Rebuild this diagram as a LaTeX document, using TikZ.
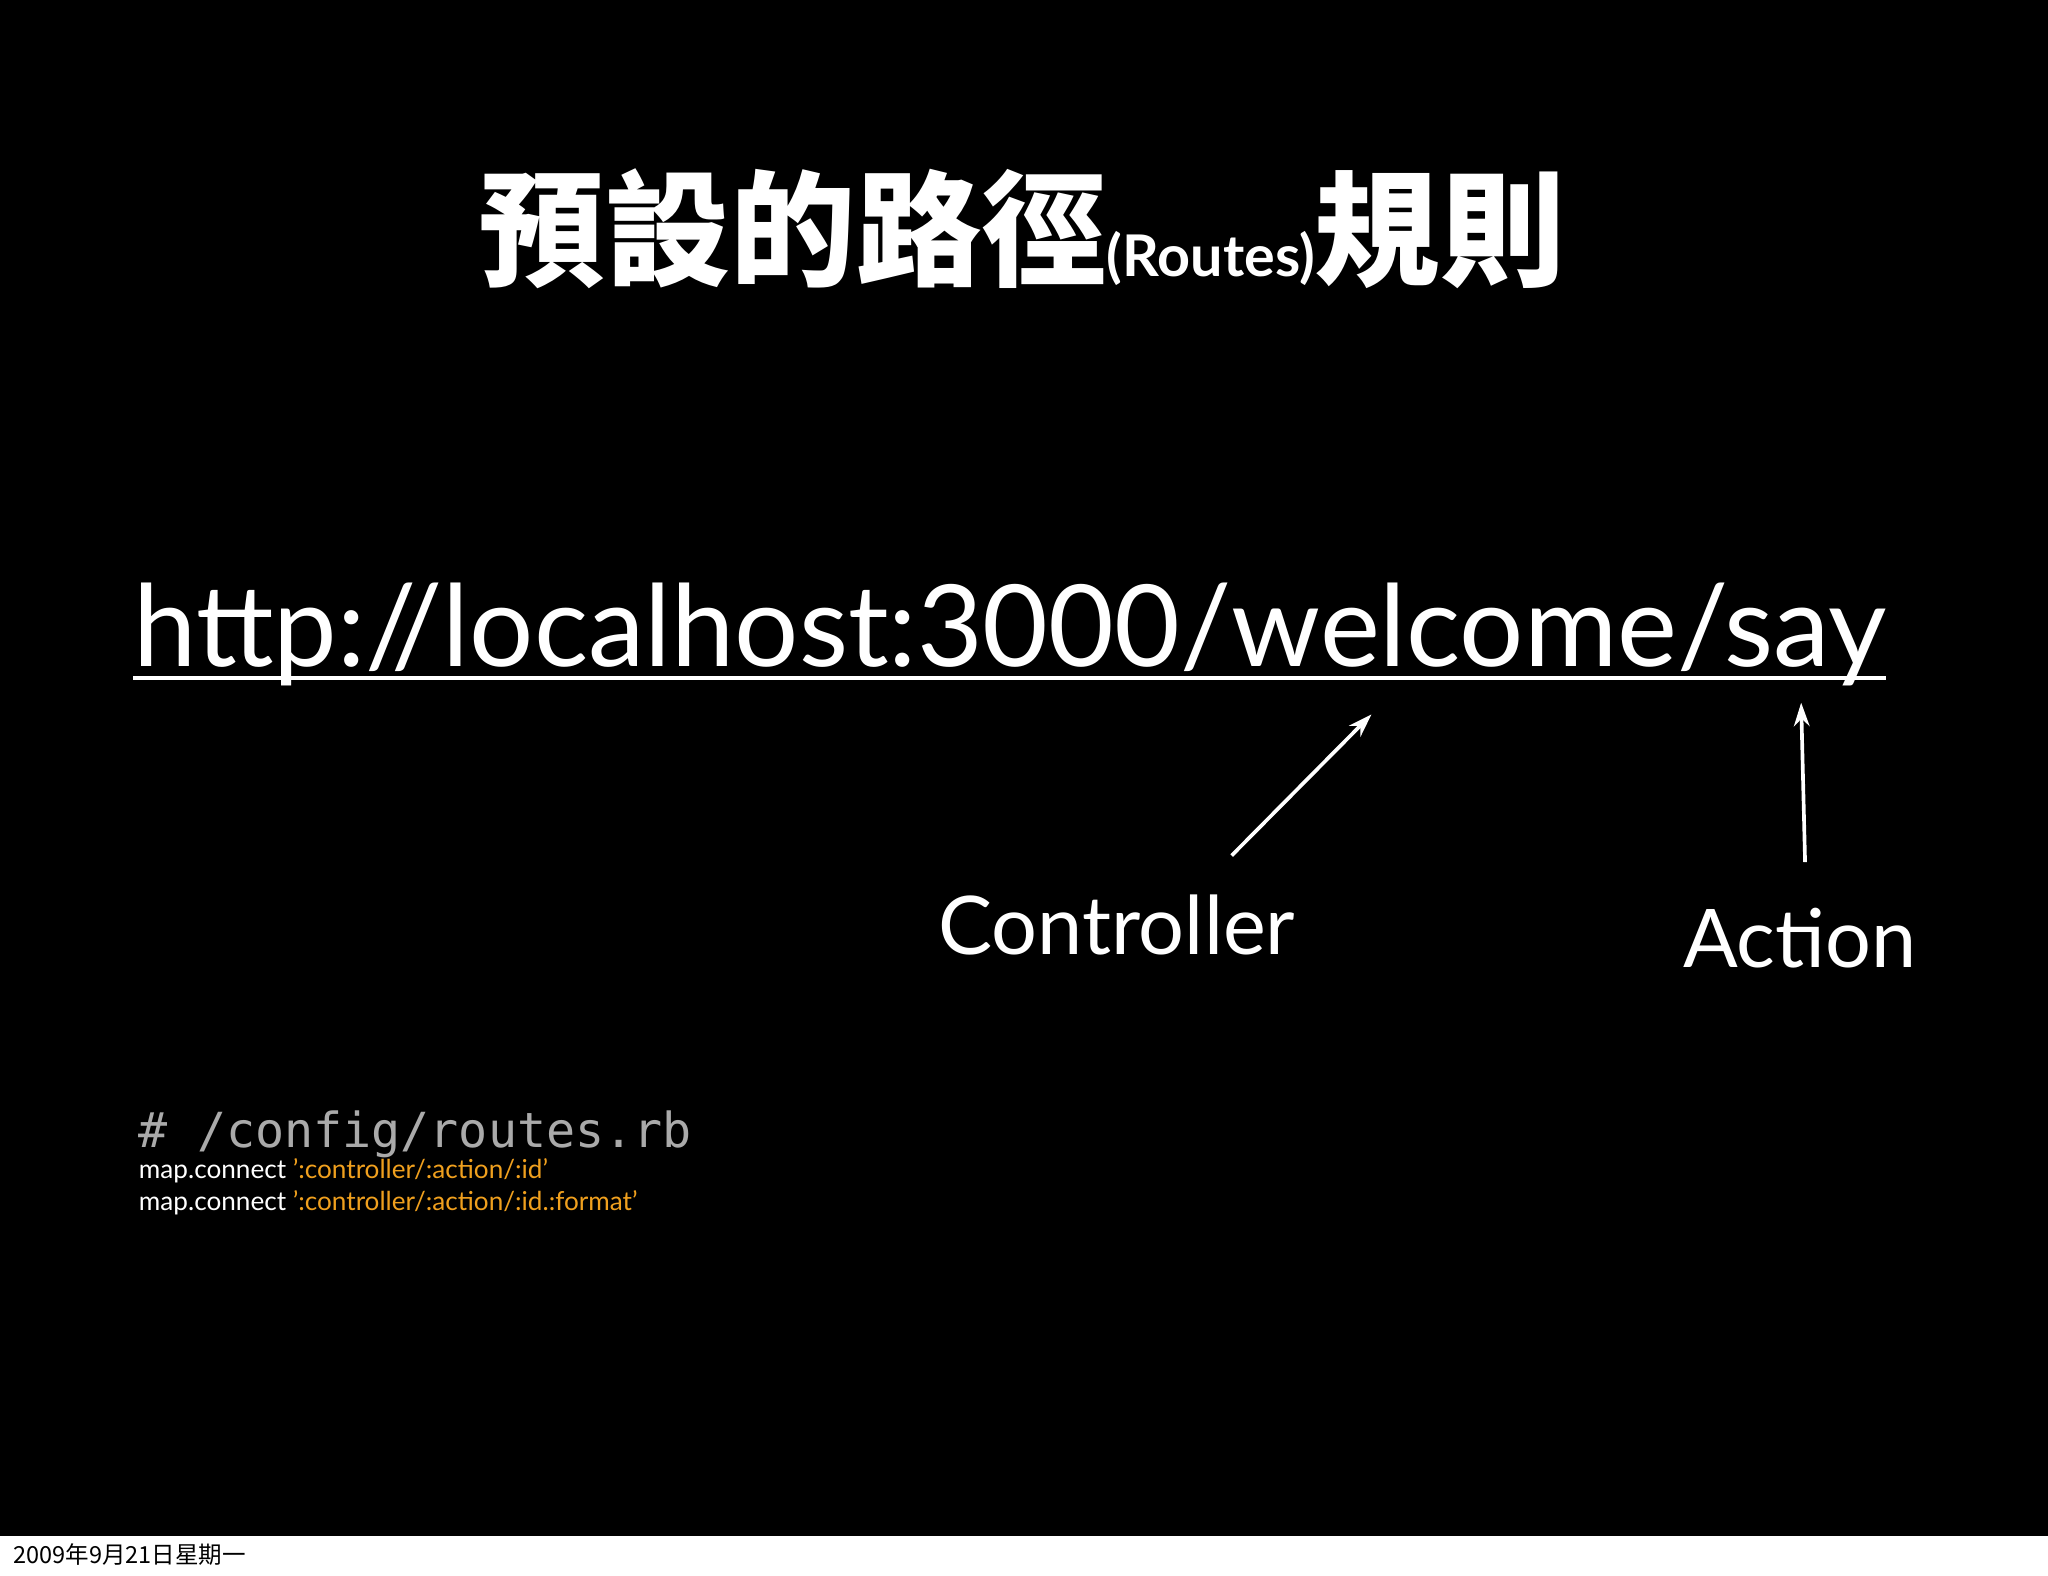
\documentclass[tikz,border=0pt]{standalone}
\usepackage{fontspec}
\setmainfont{Lato}
\setmonofont{DejaVu Sans Mono}
\newfontfamily\cjk{Noto Sans CJK TC}
\usetikzlibrary{arrows.meta}
\definecolor{codeor}{RGB}{240,160,30}
\definecolor{codegr}{RGB}{170,170,170}
\tikzset{lbl/.style={text=white,inner sep=0pt},
arr/.style={white,line width=1.4pt,-{Stealth[length=9pt,width=6pt]}}}
\begin{document}
\begin{tikzpicture}[x=0.5pt,y=-0.5pt]
\fill[white] (0,0) rectangle (1568,1206);
\fill[black] (0,0) rectangle (1568,1176);
\node[lbl,anchor=base] (title) at (783,212) {\cjk\fontsize{48}{50}\selectfont\bfseries 預設的路徑{\rmfamily\fontsize{22}{24}\selectfont (Routes)}規則};
\node[lbl,anchor=base west] (url) at (102,510) {\resizebox{671pt}{!}{\fontsize{50}{52}\selectfont http://localhost:3000/welcome/say}};
\draw[white,line width=1.5pt] (102,519) -- (1444,519);
\node[lbl] (ctrl) at (855,708) {\fontsize{31}{33}\selectfont Controller};
\node[lbl] (act) at (1378,718) {\fontsize{31}{33}\selectfont Action};
\coordinate (c1) at (943,655); \coordinate (c2) at (1050,547);
\coordinate (a1) at (1382,660); \coordinate (a2) at (1379,538);
\draw[arr] (c1) -- (c2);
\draw[arr] (a1) -- (a2);
\node[lbl,anchor=north west,align=left] (code) at (106,850) {\ttfamily\fontsize{18.5}{24.5}\selectfont
\textcolor{codegr}{\# /config/routes.rb}\\
map.connect \textcolor{codeor}{':controller/:action/:id'}\\
map.connect \textcolor{codeor}{':controller/:action/:id.:format'}};
\node[anchor=west,inner sep=0pt] (foot) at (10,1190) {\cjk\fontsize{9}{10}\selectfont 2009年9月21日星期一};
\end{tikzpicture}
\end{document}
